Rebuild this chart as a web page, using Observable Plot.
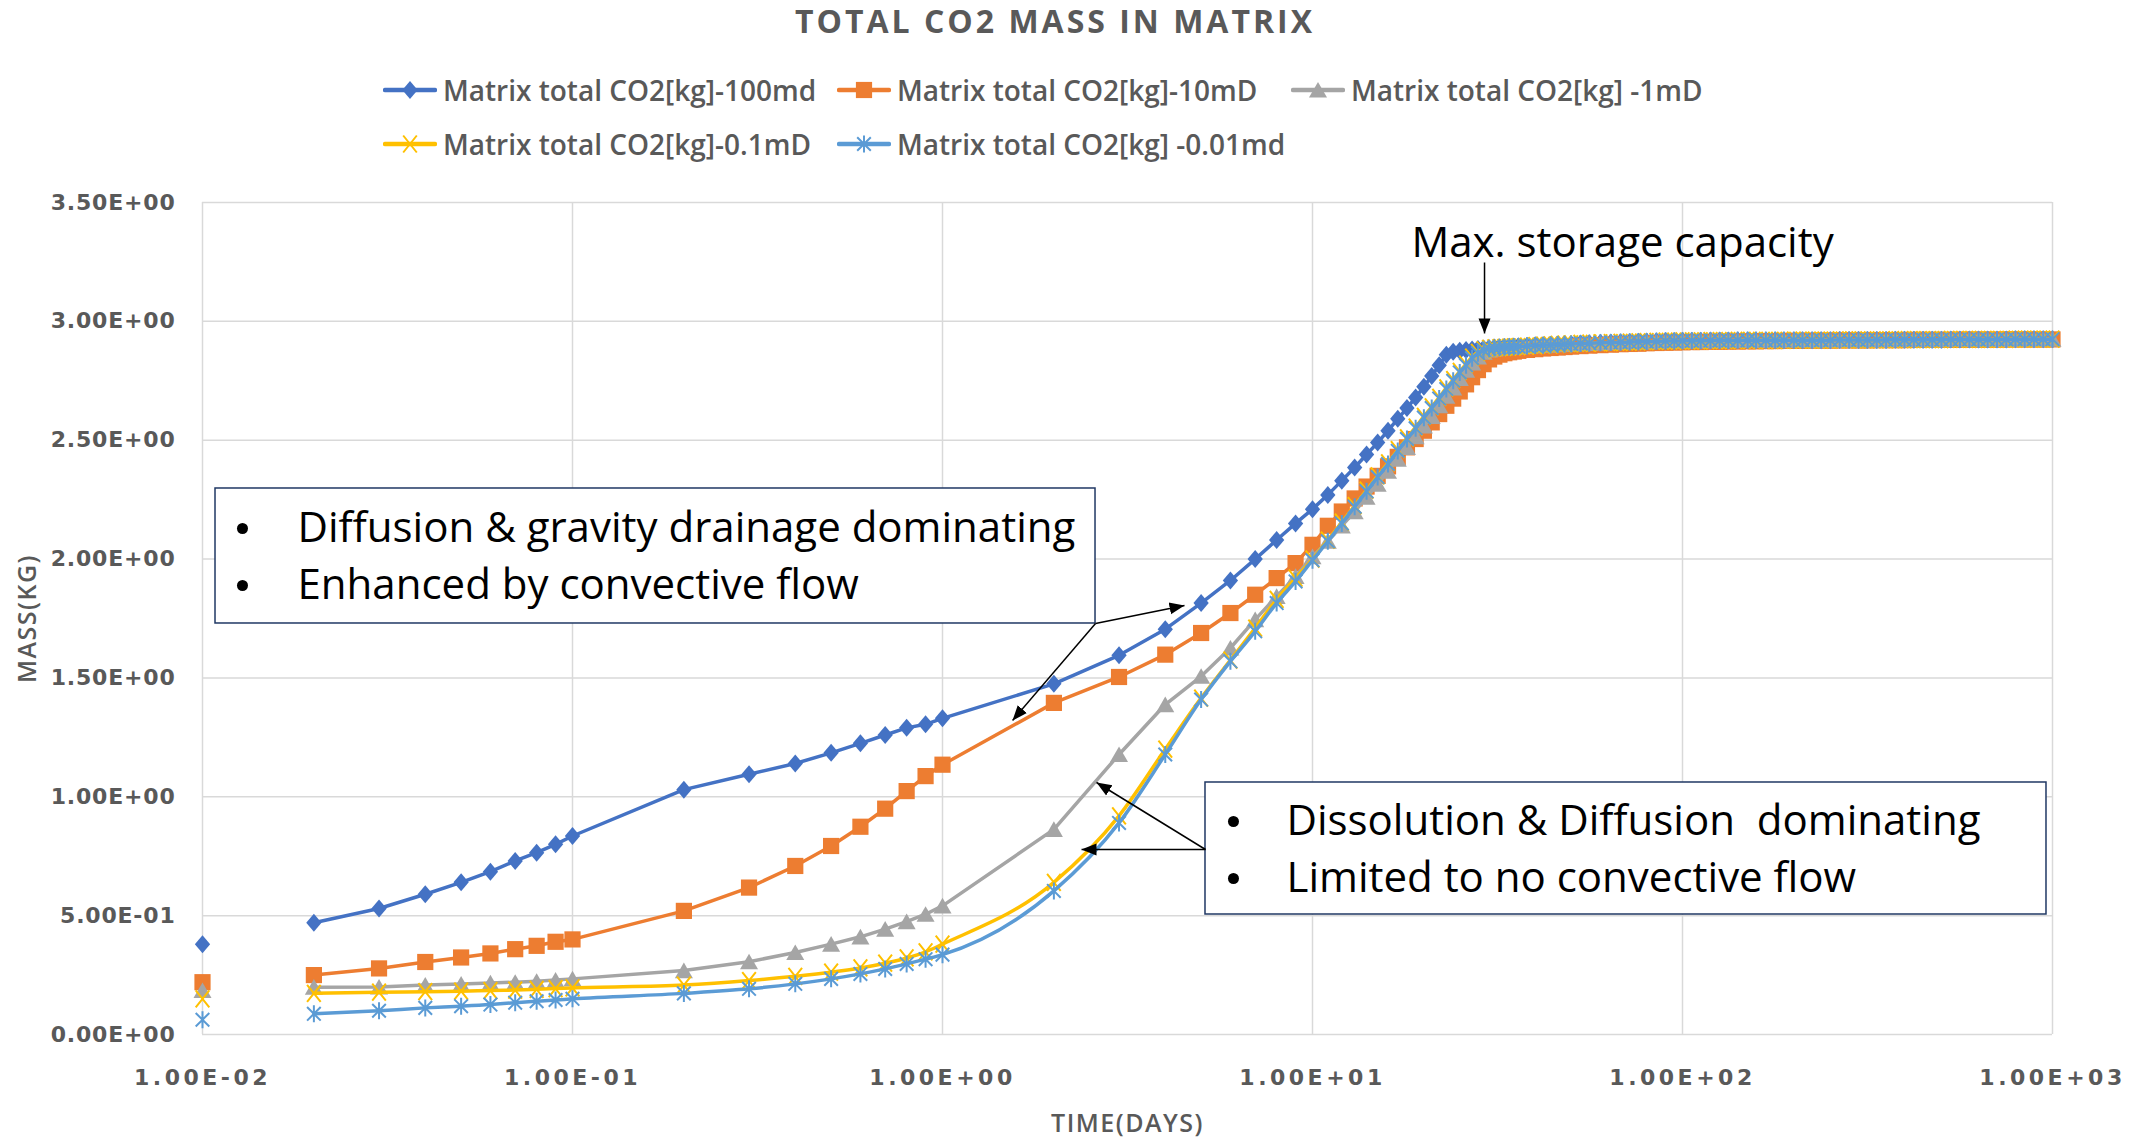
<!DOCTYPE html>
<html>
<head>
<meta charset="utf-8">
<script src="https://cdn.jsdelivr.net/npm/d3@7"></script>
<script src="https://cdn.jsdelivr.net/npm/@observablehq/plot@0.6"></script>
<style>
html,body{margin:0;padding:0;background:#fff;}
#wrap{width:2139px;height:1138px;position:relative;overflow:hidden;background:#fff;}
#header{position:relative;width:2139px;height:170px;}
#title{position:absolute;left:0;top:5px;width:2110px;text-align:center;font:700 32px/32px "Open Sans";letter-spacing:3px;color:#595959;}
#legend{position:absolute;left:383px;top:76px;display:grid;grid-template-columns:454px 454px 454px;grid-auto-rows:54.3px;}
.item{display:flex;align-items:center;height:28px;font:600 28px/28px "Open Sans";color:#595959;white-space:pre;}
.item svg{margin-right:6px;flex:none;}
#chart svg{display:block;}
</style>
</head>
<body>
<div id="wrap">
  <div id="header"><div id="title">TOTAL CO2 MASS IN MATRIX</div><div id="legend"></div></div>
  <div id="chart"></div>
</div>
<script>
// ---------- DATA ----------
const days = [
  0.01,0.02,0.03,0.04,0.05,0.06,0.07,0.08,0.09,0.1,
  0.2,0.3,0.4,0.5,0.6,0.7,0.8,0.9,1,
  2,3,4,5,6,7,8,9,10,
  11,12,13,14,15,16,17,18,19,20,
  21,22,23,24,25,26,27,28,29,30,
  31,32,33,34,35,36,38,40,42,44,
  46,48,50,53,56,60,64,68,72,76,
  80,85,90,95,100,
  106,112,119,126,133,141,150,158,168,178,
  188,200,211,224,237,251,266,282,299,316,
  335,355,376,398,422,447,473,501,531,562,
  596,631,668,708,750,794,841,891,944,1000
];

const mass100md = [
  0.38,0.47,0.53,0.59,0.64,0.685,0.73,0.765,0.80,0.835,
  1.03,1.095,1.14,1.185,1.225,1.26,1.29,1.305,1.33,
  1.475,1.595,1.705,1.815,1.91,2.0,2.08,2.15,2.21,
  2.27,2.33,2.385,2.44,2.49,2.54,2.59,2.635,2.68,2.725,
  2.77,2.815,2.86,2.872,2.876,2.879,2.882,2.884,2.886,2.888,
  2.89,2.891,2.892,2.893,2.894,2.895,2.897,2.899,2.90,2.902,
  2.903,2.904,2.905,2.907,2.908,2.91,2.911,2.912,2.913,2.914,
  2.915,2.916,2.917,2.917,2.918,
  2.918,2.918,2.919,2.919,2.919,2.92,2.92,2.92,2.92,2.92,
  2.92,2.921,2.921,2.921,2.921,2.921,2.922,2.922,2.922,2.922,
  2.922,2.922,2.923,2.923,2.923,2.923,2.923,2.923,2.924,2.924,
  2.924,2.924,2.924,2.924,2.924,2.925,2.925,2.925,2.925,2.925
];

const mass10mD = [
  0.22,0.25,0.278,0.305,0.324,0.341,0.359,0.373,0.39,0.40,
  0.52,0.618,0.709,0.793,0.874,0.95,1.024,1.087,1.135,
  1.395,1.504,1.598,1.689,1.773,1.85,1.92,1.983,2.06,
  2.14,2.20,2.255,2.305,2.35,2.39,2.43,2.47,2.505,2.54,
  2.575,2.61,2.645,2.675,2.705,2.735,2.765,2.795,2.82,2.84,
  2.852,2.86,2.866,2.87,2.873,2.876,2.88,2.883,2.886,2.888,
  2.89,2.892,2.894,2.896,2.898,2.90,2.902,2.904,2.905,2.906,
  2.908,2.909,2.91,2.911,2.912,
  2.913,2.913,2.914,2.914,2.915,2.915,2.916,2.916,2.917,2.917,
  2.918,2.918,2.918,2.919,2.919,2.919,2.92,2.92,2.92,2.92,
  2.921,2.921,2.921,2.921,2.922,2.922,2.922,2.922,2.922,2.923,
  2.923,2.923,2.923,2.923,2.924,2.924,2.924,2.924,2.924,2.924
];

const mass1mD = [
  0.185,0.199,0.20,0.208,0.212,0.217,0.22,0.224,0.229,0.234,
  0.269,0.306,0.345,0.38,0.411,0.443,0.475,0.506,0.541,
  0.863,1.178,1.388,1.507,1.626,1.745,1.843,1.927,2.01,
  2.075,2.14,2.20,2.26,2.315,2.37,2.42,2.47,2.515,2.56,
  2.60,2.645,2.685,2.72,2.76,2.795,2.825,2.85,2.87,2.88,
  2.884,2.887,2.889,2.891,2.892,2.893,2.895,2.897,2.899,2.90,
  2.902,2.903,2.904,2.906,2.907,2.909,2.91,2.911,2.912,2.913,
  2.914,2.915,2.916,2.916,2.917,
  2.918,2.918,2.919,2.919,2.919,2.92,2.92,2.92,2.92,2.92,
  2.92,2.921,2.921,2.921,2.921,2.921,2.922,2.922,2.922,2.922,
  2.922,2.922,2.923,2.923,2.923,2.923,2.923,2.923,2.924,2.924,
  2.924,2.924,2.924,2.924,2.924,2.925,2.925,2.925,2.925,2.925
];

const mass01mD = [
  0.15,0.173,0.178,0.18,0.182,0.185,0.187,0.19,0.193,0.196,
  0.208,0.227,0.245,0.262,0.28,0.30,0.322,0.348,0.38,
  0.64,0.92,1.20,1.415,1.575,1.71,1.83,1.92,2.0,
  2.08,2.155,2.225,2.29,2.35,2.405,2.46,2.51,2.555,2.60,
  2.64,2.68,2.72,2.755,2.79,2.82,2.85,2.87,2.88,2.886,
  2.888,2.89,2.891,2.892,2.893,2.894,2.896,2.898,2.90,2.901,
  2.903,2.904,2.905,2.907,2.908,2.91,2.911,2.912,2.913,2.914,
  2.915,2.916,2.917,2.917,2.918,
  2.918,2.918,2.919,2.919,2.919,2.92,2.92,2.92,2.92,2.92,
  2.92,2.921,2.921,2.921,2.921,2.921,2.922,2.922,2.922,2.922,
  2.922,2.922,2.923,2.923,2.923,2.923,2.923,2.923,2.924,2.924,
  2.924,2.924,2.924,2.924,2.924,2.925,2.925,2.925,2.925,2.925
];

const mass001md = [
  0.062,0.087,0.10,0.112,0.119,0.126,0.134,0.14,0.145,0.15,
  0.173,0.192,0.213,0.234,0.255,0.276,0.297,0.317,0.336,
  0.604,0.89,1.178,1.409,1.57,1.696,1.815,1.906,1.995,
  2.075,2.15,2.22,2.285,2.345,2.40,2.455,2.505,2.55,2.595,
  2.635,2.675,2.715,2.75,2.785,2.815,2.845,2.866,2.878,2.885,
  2.888,2.89,2.891,2.892,2.893,2.894,2.896,2.898,2.90,2.901,
  2.903,2.904,2.905,2.907,2.908,2.91,2.911,2.912,2.913,2.914,
  2.915,2.916,2.917,2.917,2.918,
  2.918,2.918,2.919,2.919,2.919,2.92,2.92,2.92,2.92,2.92,
  2.92,2.921,2.921,2.921,2.921,2.921,2.922,2.922,2.922,2.922,
  2.922,2.922,2.923,2.923,2.923,2.923,2.923,2.923,2.924,2.924,
  2.924,2.924,2.924,2.924,2.924,2.925,2.925,2.925,2.925,2.925
];

const seriesNames = [
  "Matrix total CO2[kg]-100md",
  "Matrix total CO2[kg]-10mD",
  "Matrix total CO2[kg] -1mD",
  "Matrix total CO2[kg]-0.1mD",
  "Matrix total CO2[kg] -0.01md"
];

const xTicks = [0.01, 0.1, 1, 10, 100, 1000];
const yTicks = [0, 0.5, 1, 1.5, 2, 2.5, 3, 3.5];

const chartTitle = "TOTAL CO2 MASS IN MATRIX";
const xTitle = "TIME(DAYS)";
const yTitle = "MASS(KG)";

// annotations (data coordinates)
const boxes = [
  {x1: 0.010843, x2: 2.5915, y1: 1.729, y2: 2.2969},
  {x1: 5.138, x2: 963.3, y1: 0.5048, y2: 1.0601}
];
const bullets = [
  {x: 0.012826, y: 2.1286}, {x: 0.012826, y: 1.8888},
  {x: 6.115, y: 0.896}, {x: 6.115, y: 0.6563}
];
const notes = [
  {x: 0.018061, y: 2.1286, text: "Diffusion & gravity drainage dominating"},
  {x: 0.018061, y: 1.8888, text: "Enhanced by convective flow"},
  {x: 8.505, y: 0.896, text: "Dissolution & Diffusion  dominating"},
  {x: 8.505, y: 0.6563, text: "Limited to no convective flow"}
];
const capNote = [{x: 68.86, y: 3.3276, text: "Max. storage capacity"}];
const arrows = [
  {x1: 2.5915, y1: 1.729, x2: 4.509, y2: 1.8047},
  {x1: 2.5915, y1: 1.729, x2: 1.5463, y2: 1.3209},
  {x1: 5.138, y1: 0.7782, x2: 2.3753, y2: 0.7782},
  {x1: 5.138, y1: 0.7782, x2: 2.6078, y2: 1.0601},
  {x1: 29.17, y1: 3.2476, x2: 29.17, y2: 2.949}
];

// ---------- SYMBOLS ----------
const rr = size => Math.sqrt(size / Math.PI);
const symDiamond = {draw(c, s){const r=rr(s); c.moveTo(0,-r); c.lineTo(0.85*r,0); c.lineTo(0,r); c.lineTo(-0.85*r,0); c.closePath();}};
const symSquare = {draw(c, s){const r=rr(s)*0.9; c.moveTo(-r,-r); c.lineTo(r,-r); c.lineTo(r,r); c.lineTo(-r,r); c.closePath();}};
const symTriangle = {draw(c, s){const r=rr(s); c.moveTo(0,-0.85*r); c.lineTo(0.95*r,0.8*r); c.lineTo(-0.95*r,0.8*r); c.closePath();}};
const symTimes = {draw(c, s){const r=rr(s); c.moveTo(-0.8*r,-r); c.lineTo(0.8*r,r); c.moveTo(0.8*r,-r); c.lineTo(-0.8*r,r);}};
const symStar = {draw(c, s){const r=rr(s); c.moveTo(-0.8*r,-0.8*r); c.lineTo(0.8*r,0.8*r); c.moveTo(0.8*r,-0.8*r); c.lineTo(-0.8*r,0.8*r); c.moveTo(0,-r); c.lineTo(0,r);}};
const symBullet = {draw(c, s){const r=rr(s); c.moveTo(r,0); c.arc(0,0,r,0,2*Math.PI);}};

const series = [
  {name: seriesNames[0], values: mass100md, color: "#4472C4", symbol: symDiamond, r: 9, filled: true, curve: "linear"},
  {name: seriesNames[1], values: mass10mD, color: "#ED7D31", symbol: symSquare, r: 9, filled: true, curve: "linear"},
  {name: seriesNames[2], values: mass1mD, color: "#A5A5A5", symbol: symTriangle, r: 9.5, filled: true, curve: "linear"},
  {name: seriesNames[3], values: mass01mD, color: "#FFC000", symbol: symTimes, r: 8.5, filled: false, curve: "monotone-x"},
  {name: seriesNames[4], values: mass001md, color: "#5B9BD5", symbol: symStar, r: 8.5, filled: false, curve: "monotone-x"}
];

const sci = d => {
  const [m, e] = d.toExponential(2).split("e");
  const n = +e;
  return m + "E" + (n < 0 ? "-" : "+") + String(Math.abs(n)).padStart(2, "0");
};

// ---------- TITLE / LEGEND ----------
document.getElementById("title").textContent = chartTitle;
const legend = d3.select("#legend");
for (const s of series) {
  const item = legend.append("div").attr("class", "item");
  const sw = item.append("svg").attr("width", 54).attr("height", 28);
  sw.append("line").attr("x1", 2).attr("x2", 52).attr("y1", 14).attr("y2", 14)
    .attr("stroke", s.color).attr("stroke-width", 4.5).attr("stroke-linecap", "round");
  sw.append("path").attr("transform", "translate(27,14)")
    .attr("d", d3.symbol(s.symbol, Math.PI * s.r * s.r)())
    .attr("fill", s.filled ? s.color : "none")
    .attr("stroke", s.filled ? "none" : s.color)
    .attr("stroke-width", 2);
  item.append("span").text(s.name);
}

// ---------- PLOT ----------
const marks = [
  Plot.gridY(yTicks, {stroke: "#D9D9D9", strokeOpacity: 1, strokeWidth: 1.5}),
  Plot.gridX(xTicks, {stroke: "#D9D9D9", strokeOpacity: 1, strokeWidth: 1.5}),
  Plot.axisY(yTicks, {tickSize: 0, tickPadding: 27, tickFormat: sci, label: null}),
  Plot.axisX(xTicks, {tickSize: 0, tickPadding: 35, tickFormat: sci, label: null})
];
for (const s of series) {
  const rows = days.map((t, i) => ({t, v: s.values[i]}));
  marks.push(Plot.line(rows.filter(d => d.t > 0.01), {x: "t", y: "v", stroke: s.color, strokeWidth: 3.5, curve: s.curve}));
  marks.push(Plot.dot(rows, {x: "t", y: "v", symbol: s.symbol, r: s.r,
    fill: s.filled ? s.color : "none", stroke: s.filled ? "none" : s.color, strokeWidth: 2}));
}
marks.push(
  Plot.rect(boxes, {x1: "x1", x2: "x2", y1: "y1", y2: "y2", fill: "white", stroke: "#203864", strokeWidth: 1.5}),
  Plot.dot(bullets, {x: "x", y: "y", symbol: symBullet, r: 5.5, fill: "black", stroke: "none"}),
  Plot.text(notes, {x: "x", y: "y", text: "text", textAnchor: "start", fontSize: 42, fontFamily: "Open Sans", fill: "black"}),
  Plot.text(capNote, {x: "x", y: "y", text: "text", textAnchor: "middle", fontSize: 42, fontFamily: "Open Sans", fill: "black"}),
  Plot.link(arrows, {x1: "x1", y1: "y1", x2: "x2", y2: "y2", stroke: "black", strokeWidth: 1.5, markerEnd: "arrow"}),
  Plot.text([xTitle], {text: d => d, frameAnchor: "bottom", textAnchor: "middle", lineAnchor: "middle", dy: 89, fontSize: 25, fontWeight: 600, fontFamily: "Open Sans", fill: "#595959"}),
  Plot.text([yTitle], {text: d => d, frameAnchor: "left", textAnchor: "middle", lineAnchor: "middle", dx: -175, rotate: -90, fontSize: 25, fontWeight: 600, fontFamily: "Open Sans", fill: "#595959"})
);

const svg = Plot.plot({
  width: 2139,
  height: 968,
  marginTop: 32,
  marginBottom: 104,
  marginLeft: 202,
  marginRight: 87,
  x: {type: "log", domain: [0.01, 1000]},
  y: {domain: [0, 3.5]},
  style: {background: "white", color: "#595959", fontFamily: "DejaVu Sans", overflow: "visible", whiteSpace: "pre"},
  marks
});
document.getElementById("chart").appendChild(svg);

// style tweaks
const sv = d3.select(svg);
sv.selectAll('[aria-label="y-axis tick label"]').attr("font-size", 22).attr("font-weight", "bold").attr("letter-spacing", 0.8).attr("fill", "#595959");
sv.selectAll('[aria-label="x-axis tick label"]').attr("font-size", 22).attr("font-weight", "bold").attr("letter-spacing", 3.5).attr("fill", "#595959");
sv.selectAll('[aria-label="text"]').filter(function(){ return this.textContent === xTitle || this.textContent === yTitle; }).attr("letter-spacing", 1.5);
sv.selectAll("marker").each(function() {
  const m = d3.select(this);
  m.attr("viewBox", "-10 -5 10 10").attr("markerWidth", 10).attr("markerHeight", 10)
   .attr("fill", "black").attr("stroke", "none");
  m.selectAll("*").remove();
  m.append("path").attr("d", "M-10,-4L0,0L-10,4Z");
});
</script>
</body>
</html>
